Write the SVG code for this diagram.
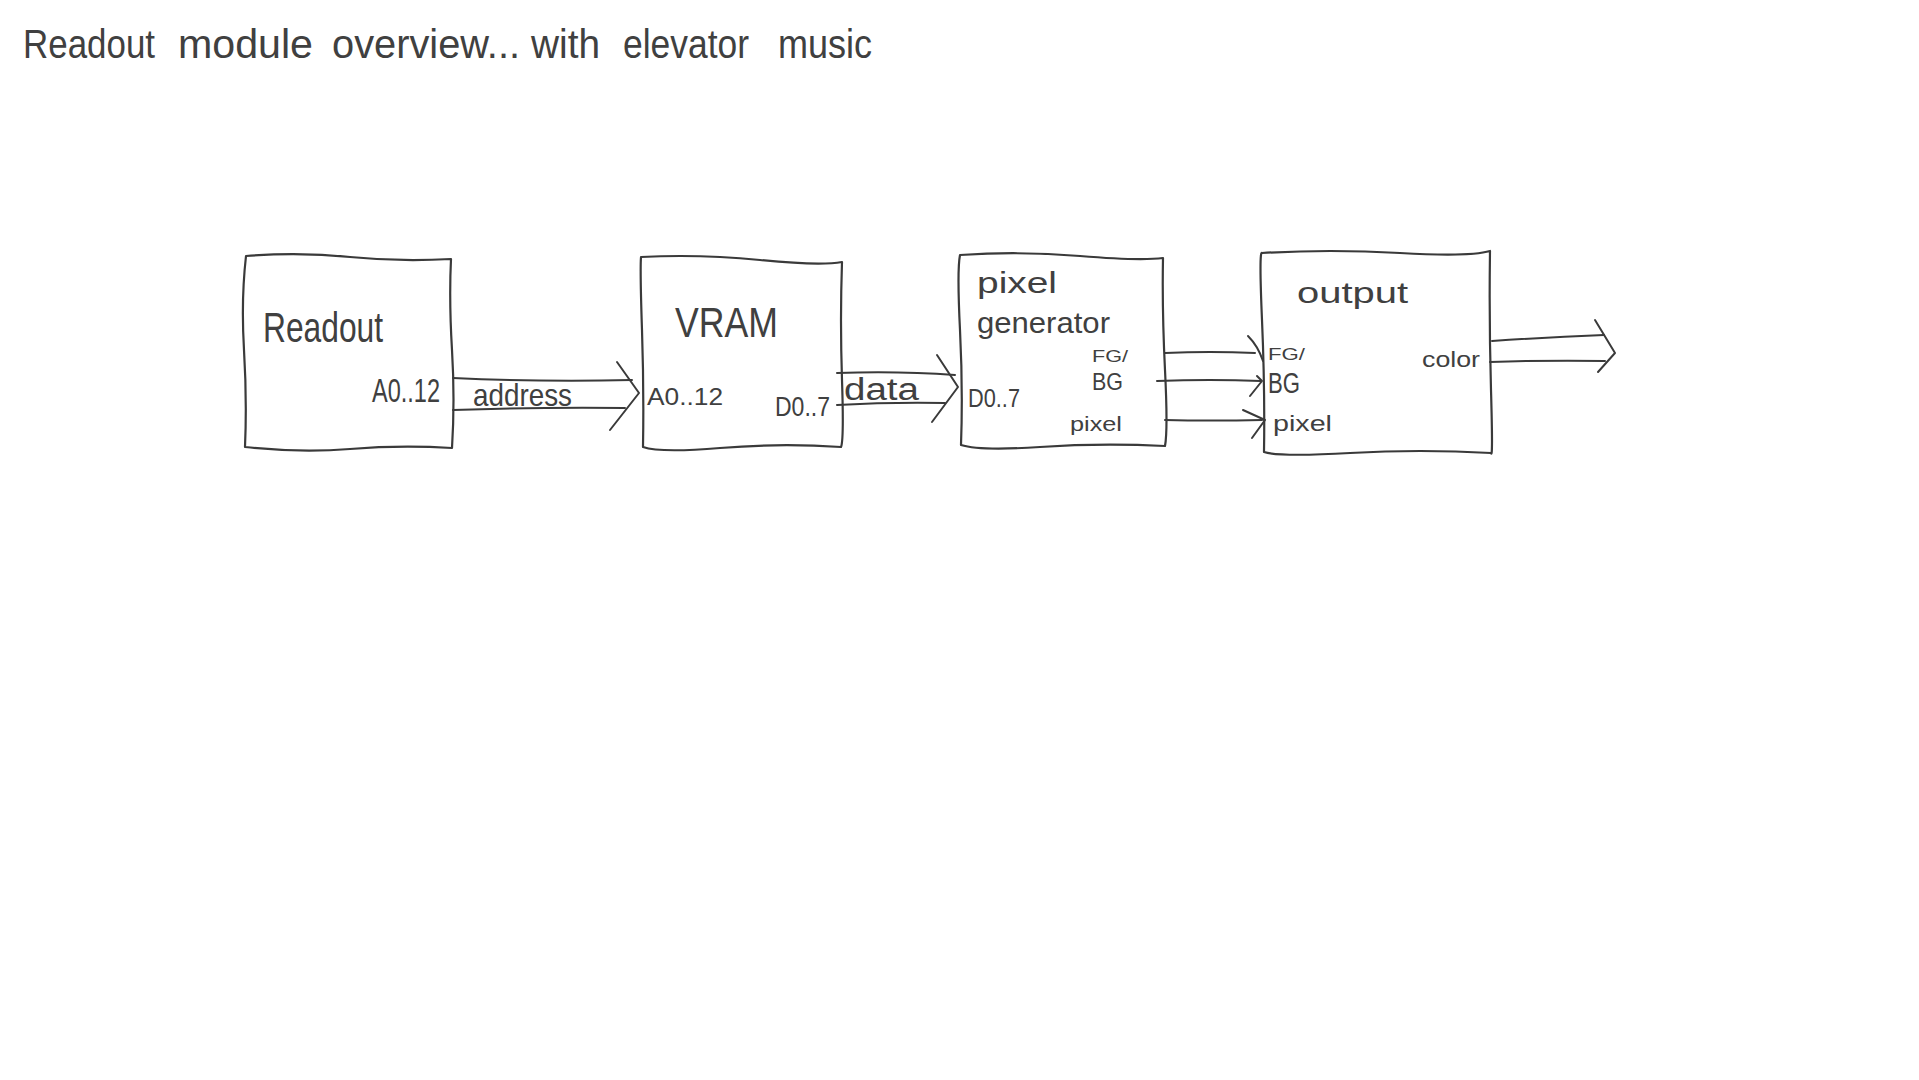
<svg xmlns="http://www.w3.org/2000/svg" width="1919" height="1080" viewBox="0 0 1919 1080">
<style>
.bx{fill:none;stroke:#3a3a3a;stroke-width:2.2;stroke-linejoin:round;stroke-linecap:round}
.ln{fill:none;stroke:#3a3a3a;stroke-width:2;stroke-linecap:round;stroke-linejoin:round}
text{font-family:"Liberation Sans","DejaVu Sans",sans-serif;fill:#404040;font-weight:300}
</style>
<rect x="0" y="0" width="1919" height="1080" fill="#ffffff"/>
<g id="title">
<text y="58" font-size="40"><tspan x="23" textLength="132" lengthAdjust="spacingAndGlyphs">Readout</tspan><tspan x="178" textLength="135" lengthAdjust="spacingAndGlyphs">module</tspan><tspan x="332" textLength="188" lengthAdjust="spacingAndGlyphs">overview...</tspan><tspan x="531" textLength="69" lengthAdjust="spacingAndGlyphs">with</tspan><tspan x="623" textLength="126" lengthAdjust="spacingAndGlyphs">elevator</tspan><tspan x="778" textLength="94" lengthAdjust="spacingAndGlyphs">music</tspan></text>
</g>
<g id="node-readout">
<path class="bx" d="M246,256 Q300,252 350,257 T451,259 Q449,300 452,350 T452,448 Q400,445 350,449 T245,447 Q247,400 244,350 T246,256 Z"/>
<text x="263" y="342" font-size="42" textLength="120" lengthAdjust="spacingAndGlyphs">Readout</text>
<text x="372" y="402" font-size="33" textLength="68" lengthAdjust="spacingAndGlyphs">A0..12</text>
</g>
<g id="node-vram">
<path class="bx" d="M641,257 Q700,254 760,260 T842,262 Q840,320 842,380 T841,447 Q780,443 720,448 T643,447 Q644,390 642,330 T641,257 Z"/>
<text x="675" y="337" font-size="42" textLength="103" lengthAdjust="spacingAndGlyphs">VRAM</text>
<text x="647" y="405" font-size="24" textLength="76" lengthAdjust="spacingAndGlyphs">A0..12</text>
<text x="775" y="416" font-size="27" textLength="55" lengthAdjust="spacingAndGlyphs">D0..7</text>
</g>
<g id="node-pixelgen">
<path class="bx" d="M960,255 Q1020,251 1080,256 T1163,258 Q1162,310 1165,370 T1165,446 Q1100,443 1040,447 T961,445 Q963,390 960,330 T960,255 Z"/>
<text x="977" y="293" font-size="30" textLength="80" lengthAdjust="spacingAndGlyphs">pixel</text>
<text x="977" y="333" font-size="30" textLength="133" lengthAdjust="spacingAndGlyphs">generator</text>
<text x="1092" y="362" font-size="17" textLength="36" lengthAdjust="spacingAndGlyphs">FG/</text>
<text x="1092" y="390" font-size="24" textLength="31" lengthAdjust="spacingAndGlyphs">BG</text>
<text x="968" y="407" font-size="25" textLength="52" lengthAdjust="spacingAndGlyphs">D0..7</text>
<text x="1070" y="431" font-size="20" textLength="52" lengthAdjust="spacingAndGlyphs">pixel</text>
</g>
<g id="node-output">
<path class="bx" d="M1262,253 Q1330,249 1400,253 T1490,251 Q1489,320 1491,390 T1491,453 Q1420,449 1350,453 T1264,452 Q1265,390 1262,320 T1262,253 Z"/>
<text x="1297" y="303" font-size="30" textLength="111" lengthAdjust="spacingAndGlyphs">output</text>
<text x="1268" y="360" font-size="17" textLength="37" lengthAdjust="spacingAndGlyphs">FG/</text>
<text x="1268" y="393" font-size="29" textLength="32" lengthAdjust="spacingAndGlyphs">BG</text>
<text x="1273" y="431" font-size="22" textLength="59" lengthAdjust="spacingAndGlyphs">pixel</text>
<text x="1422" y="367" font-size="22" textLength="58" lengthAdjust="spacingAndGlyphs">color</text>
</g>
<g id="connectors">
<g id="edge-address">
<path class="ln" d="M453,378 Q540,382 632,380"/>
<path class="ln" d="M453,410 Q540,407 625,408"/>
<path class="ln" d="M617,362 L639,393 L610,430"/>
<text x="473" y="406" font-size="32" textLength="99" lengthAdjust="spacingAndGlyphs">address</text>
</g>
<g id="edge-data">
<path class="ln" d="M837,373 Q900,371 955,375"/>
<path class="ln" d="M837,405 Q890,402 945,403"/>
<path class="ln" d="M937,355 L958,387 L932,422"/>
<text x="844" y="400" font-size="31" textLength="75" lengthAdjust="spacingAndGlyphs">data</text>
</g>
<g id="edge-fgbg-1">
<path class="ln" d="M1165,353 Q1210,351 1255,353"/>
<path class="ln" d="M1248,336 Q1258,346 1263,361"/>
</g>
<g id="edge-fgbg-2">
<path class="ln" d="M1157,381 Q1210,379 1261,381"/>
<path class="ln" d="M1257,376 L1262,381 L1250,396"/>
</g>
<g id="edge-pixel">
<path class="ln" d="M1165,420 Q1210,421 1262,420"/>
<path class="ln" d="M1243,410 L1265,420 L1252,438"/>
</g>
<g id="edge-color">
<path class="ln" d="M1492,341 Q1550,337 1604,335"/>
<path class="ln" d="M1490,362 Q1550,360 1605,361"/>
<path class="ln" d="M1595,320 L1615,353 L1598,372"/>
</g>
</g>
</svg>
